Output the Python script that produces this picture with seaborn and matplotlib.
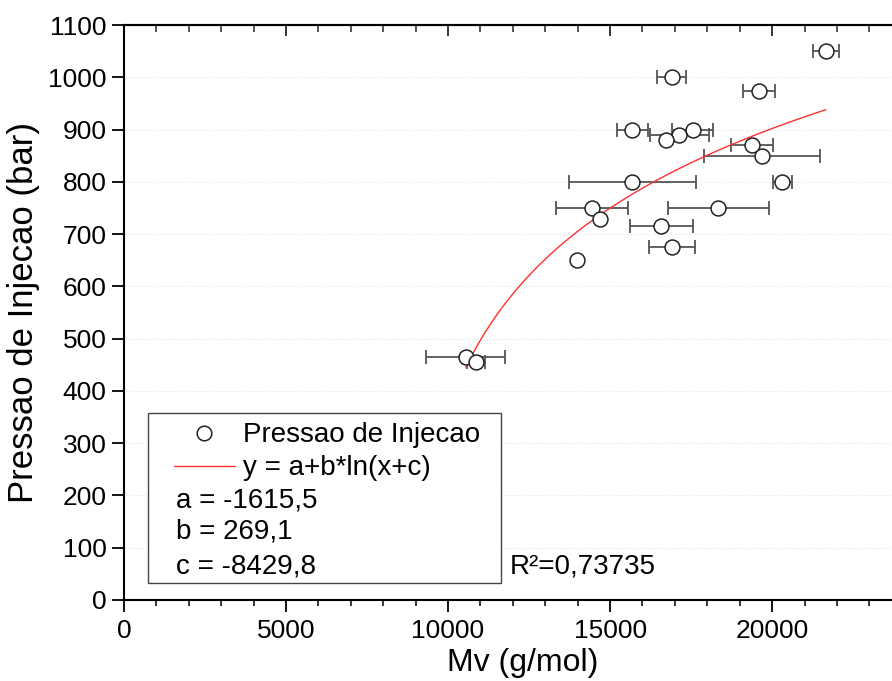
import numpy as np
import matplotlib
matplotlib.use("Agg")
import matplotlib.pyplot as plt
import seaborn as sns
from matplotlib.lines import Line2D
from matplotlib.patches import Rectangle
from matplotlib.ticker import MultipleLocator

# dados
mv = [21660, 16903, 19600, 15686, 17552, 17138, 16718, 19374, 19702, 15686,
      20310, 14441, 18342, 14688, 16582, 16903, 13968, 10549, 10867]
pressao = [1050, 1000, 975, 900, 900, 890, 880, 870, 850, 800,
           800, 750, 750, 730, 715, 675, 650, 465, 455]
mv_err = [392, 442, 484, 484, 627, 915, 0, 648, 1790, 1960,
          293, 1111, 1564, 0, 966, 710, 0, 1224, 278]

# parametros do ajuste y = a+b*ln(x+c)
a, b, c = -1615.5, 269.1, -8429.8
r2 = "0,73735"

sns.set_theme(style="ticks")
plt.rcParams['font.family'] = ['Liberation Sans', 'DejaVu Sans']
plt.rcParams['text.color'] = 'black'
plt.rcParams['axes.labelcolor'] = 'black'

fig = plt.figure(figsize=(8.92, 6.81), dpi=100)
ax = fig.add_axes([0.139, 0.119, 0.861, 0.844])

ax.yaxis.grid(True, color='#e4e4e4', linestyle=':', linewidth=0.8)
ax.set_axisbelow(True)

# barras de erro
ax.errorbar(mv, pressao, xerr=mv_err, fmt='none', ecolor='#555555',
            elinewidth=1.3, capsize=5, capthick=1.3, zorder=2)

# curva ajustada
xf = np.linspace(min(mv), max(mv), 300)
yf = a + b * np.log(xf + c)
sns.lineplot(x=xf, y=yf, color='#ff3030', linewidth=1.0, ax=ax, zorder=3)

# pontos
sns.scatterplot(x=mv, y=pressao, s=115, facecolor='white', edgecolor='#222222',
                linewidth=1.1, ax=ax, zorder=4)

ax.set_xlim(0, 23700)
ax.set_ylim(0, 1100)
ax.xaxis.set_major_locator(MultipleLocator(5000))
ax.xaxis.set_minor_locator(MultipleLocator(1000))
ax.yaxis.set_major_locator(MultipleLocator(100))

for s in ['left', 'bottom', 'top']:
    ax.spines[s].set_linewidth(1.5)
    ax.spines[s].set_color('black')
ax.spines['right'].set_visible(False)

ax.tick_params(axis='x', which='major', direction='out', length=8.5, width=1.3,
               labelsize=19, pad=5, colors='black')
ax.tick_params(axis='x', which='minor', direction='out', length=4.5, width=1.1,
               colors='black')
ax.tick_params(axis='y', which='major', direction='out', length=8.5, width=1.3,
               labelsize=19, pad=4, colors='black')

top = ax.secondary_xaxis('top')
top.xaxis.set_major_locator(MultipleLocator(5000))
top.xaxis.set_minor_locator(MultipleLocator(1000))
top.tick_params(which='major', direction='in', length=8, width=1.3, labeltop=False)
top.tick_params(which='minor', direction='in', length=5, width=1.1)
top.spines['top'].set_linewidth(1.5)

ax.set_xlabel("Mv (g/mol)", fontsize=23)
ax.set_ylabel("Pressao de Injecao (bar)", fontsize=25)
ax.xaxis.set_label_coords(0.5195, -0.083)
ax.yaxis.set_label_coords(-0.109, 0.5)

# caixa da legenda
ax.add_patch(Rectangle((0.031, 0.029), 0.4595, 0.2967, transform=ax.transAxes,
                       facecolor='white', edgecolor='#444444', linewidth=1.0,
                       zorder=5))
handles = [
    Line2D([], [], marker='o', linestyle='none', markersize=10.5,
           markerfacecolor='white', markeredgecolor='#222222', markeredgewidth=1.1),
    Line2D([], [], color='#ff3030', linewidth=1.0),
]
leg = ax.legend(handles, ["Pressao de Injecao", "y = a+b*ln(x+c)"],
                loc='upper left', bbox_to_anchor=(0.065, 0.309), frameon=False,
                fontsize=20, handlelength=2.2, handletextpad=0.3,
                labelspacing=0.25, borderpad=0, borderaxespad=0)
leg.set_zorder(6)

for txt, yy in [("a = -1615,5", 0.1739), ("b = 269,1", 0.1188), ("c = -8429,8", 0.058)]:
    ax.text(0.0673, yy, txt, transform=ax.transAxes, fontsize=20,
            va='center', ha='left', zorder=7)

ax.text(0.5026, 0.058, "R\u00b2=" + r2, transform=ax.transAxes, fontsize=20,
        va='center', ha='left')

fig.savefig("out.png", dpi=100)
